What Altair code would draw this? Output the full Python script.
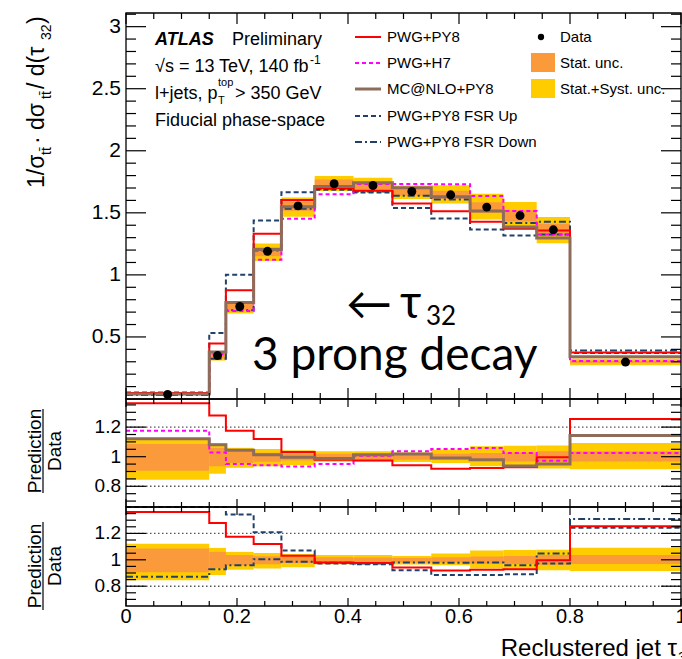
import altair as alt
import numpy as np
import pandas as pd

# ---------------------------------------------------------------- data
# bin edges of the reclustered jet tau32 distribution
edges = [0.0, 0.15, 0.18, 0.23, 0.28, 0.34, 0.41, 0.48, 0.55, 0.62, 0.68, 0.74, 0.80, 1.0]

# unfolded data, 1/sigma dsigma/dtau32
data_vals = [0.036, 0.350, 0.745, 1.190, 1.556, 1.734, 1.720, 1.672, 1.645, 1.546, 1.478, 1.363, 0.298]

# prediction / data for each generator setup
r_pwg_py8 = [1.362, 1.279, 1.175, 1.119, 1.031, 0.980, 0.975, 0.942, 0.919, 0.924, 0.928, 0.996, 1.254]
r_pwg_h7 = [1.175, 1.029, 0.951, 0.942, 0.933, 0.951, 1.007, 1.036, 1.052, 1.058, 1.025, 0.973, 1.025]
r_mcnlo = [1.121, 1.081, 1.043, 1.013, 0.996, 0.987, 1.013, 1.018, 0.991, 0.980, 0.937, 0.951, 1.144]
r_fsr_up = [1.450, 1.520, 1.344, 1.208, 1.071, 0.972, 0.967, 0.920, 0.884, 0.884, 0.891, 0.972, 1.243]
r_fsr_down = [0.871, 0.929, 0.959, 1.005, 0.985, 0.977, 0.972, 0.980, 0.977, 0.980, 0.959, 1.048, 1.309]

# relative uncertainty bands (stat. and stat.+syst.)
tot_lo = [0.845, 0.885, 0.925, 0.935, 0.944, 0.966, 0.968, 0.964, 0.958, 0.935, 0.931, 0.920, 0.915]
tot_hi = [1.121, 1.090, 1.060, 1.052, 1.043, 1.036, 1.036, 1.029, 1.047, 1.070, 1.074, 1.076, 1.092]
stat_lo = [0.905, 0.935, 0.958, 0.966, 0.975, 0.980, 0.980, 0.980, 0.980, 0.970, 0.968, 0.962, 0.968]
stat_hi = [1.085, 1.060, 1.036, 1.027, 1.022, 1.020, 1.018, 1.014, 1.020, 1.025, 1.029, 1.036, 1.036]

# axis ticks and labels
x_major = [0.0, 0.2, 0.4, 0.6, 0.8, 1.0]
x_labels = ["0", "0.2", "0.4", "0.6", "0.8", "1"]
main_major = [0.5, 1.0, 1.5, 2.0, 2.5, 3.0]
main_labels = ["0.5", "1", "1.5", "2", "2.5", "3"]
ratio_major = [0.8, 1.0, 1.2]
ratio_labels = ["0.8", "1", "1.2"]

# ---------------------------------------------------------------- styling
RED = "#ff0000"
MAGENTA = "#ff00ff"
BROWN = "#8e6c5a"
NAVY = "#22416a"
ORANGE = "#fb9a3a"
YELLOW = "#ffcc00"
FONT = "Liberation Sans"

W = 555
PANELS = {
    "main": dict(domain=[0.0, 3.11], top=0, bottom=386),
    "r1": dict(domain=[0.66, 1.39], top=386, bottom=494),
    "r2": dict(domain=[0.65, 1.40], top=494, bottom=593),
}
XS = alt.Scale(domain=[0, 1], nice=False, zero=False)
ONE = pd.DataFrame({"k": [0]})


def yscale(p):
    d = PANELS[p]
    return alt.Scale(domain=d["domain"], range=[d["bottom"], d["top"]],
                     nice=False, zero=False, clamp=True)


def X(field):
    return alt.X(field, type="quantitative", scale=XS, axis=None)


def Y(field, p):
    return alt.Y(field, type="quantitative", scale=yscale(p), axis=None)


def step_line(vals, p, color, width, dash=None):
    df = pd.DataFrame({"x": edges, "y": list(vals) + [vals[-1]]})
    mk = dict(interpolate="step-after", color=color, strokeWidth=width, clip=True)
    if dash:
        mk["strokeDash"] = dash
    return alt.Chart(df).mark_line(**mk).encode(x=X("x"), y=Y("y", p))


def band(lo, hi, p, color):
    df = pd.DataFrame({"x0": edges[:-1], "x1": edges[1:], "lo": lo, "hi": hi})
    return alt.Chart(df).mark_rect(color=color).encode(
        x=X("x0"), x2="x1:Q", y=Y("lo", p), y2="hi:Q")


def y_ticks(p, vals, length):
    df = pd.DataFrame({"v": vals})
    left = alt.Chart(df).mark_rule(color="black", strokeWidth=1.2).encode(
        y=Y("v", p), x=alt.value(0), x2=alt.value(length))
    right = alt.Chart(df).mark_rule(color="black", strokeWidth=1.2).encode(
        y=Y("v", p), x=alt.value(W), x2=alt.value(W - length))
    return [left, right]


def x_ticks(p, vals, length):
    d = PANELS[p]
    df = pd.DataFrame({"v": vals})
    top = alt.Chart(df).mark_rule(color="black", strokeWidth=1.2).encode(
        x=X("v"), y=alt.value(d["top"]), y2=alt.value(d["top"] + length))
    bot = alt.Chart(df).mark_rule(color="black", strokeWidth=1.2).encode(
        x=X("v"), y=alt.value(d["bottom"]), y2=alt.value(d["bottom"] - length))
    return [top, bot]


def frame(p):
    d = PANELS[p]
    return alt.Chart(ONE).mark_rect(fillOpacity=0, stroke="black", strokeWidth=1.3).encode(
        x=alt.value(0), x2=alt.value(W), y=alt.value(d["top"]), y2=alt.value(d["bottom"]))


def y_labels(p, vals, labels, size):
    df = pd.DataFrame({"v": vals, "t": labels})
    return alt.Chart(df).mark_text(align="right", baseline="middle", fontSize=size,
                                   font=FONT, color="black").encode(
        y=Y("v", p), x=alt.value(-5), text="t:N")


def label(text, x, y, size=15, align="left", baseline="alphabetic", font=FONT,
          angle=0, **kw):
    mk = dict(text=text, align=align, baseline=baseline, fontSize=size, font=font,
              color="black", **kw)
    if angle:
        mk["angle"] = angle
    return alt.Chart(ONE).mark_text(**mk).encode(x=alt.value(x), y=alt.value(y))


def ref_line(p, v):
    return alt.Chart(pd.DataFrame({"v": [v]})).mark_rule(
        color="#555555", strokeWidth=1.4, strokeDash=[1.5, 2.5]).encode(
        y=Y("v", p), x=alt.value(0), x2=alt.value(W))


# ---------------------------------------------------------------- derived tables
d = np.array(data_vals)
centers = [(a + b) / 2 for a, b in zip(edges[:-1], edges[1:])]

layers = []

# ----- main panel: normalised distribution
layers += [
    band(d * np.array(tot_lo), d * np.array(tot_hi), "main", YELLOW),
    band(d * np.array(stat_lo), d * np.array(stat_hi), "main", ORANGE),
    step_line(d * np.array(r_fsr_down), "main", NAVY, 2, [7, 3, 2, 3]),
    step_line(d * np.array(r_fsr_up), "main", NAVY, 2, [5, 3]),
    step_line(d * np.array(r_pwg_h7), "main", MAGENTA, 2, [4, 3]),
    step_line(d * np.array(r_pwg_py8), "main", RED, 2),
    step_line(d * np.array(r_mcnlo), "main", BROWN, 3),
    alt.Chart(pd.DataFrame({"x": centers, "y": data_vals})).mark_circle(
        color="black", size=80, opacity=1).encode(x=X("x"), y=Y("y", "main")),
]

# ----- ratio panel 1: nominal generators
layers += [
    band(tot_lo, tot_hi, "r1", YELLOW),
    band(stat_lo, stat_hi, "r1", ORANGE),
    ref_line("r1", 1.2), ref_line("r1", 0.8),
    step_line(r_pwg_h7, "r1", MAGENTA, 2, [4, 3]),
    step_line(r_pwg_py8, "r1", RED, 2),
    step_line(r_mcnlo, "r1", BROWN, 3),
]

# ----- ratio panel 2: FSR variations
layers += [
    band(tot_lo, tot_hi, "r2", YELLOW),
    band(stat_lo, stat_hi, "r2", ORANGE),
    ref_line("r2", 1.2), ref_line("r2", 0.8),
    step_line(r_fsr_down, "r2", NAVY, 2, [7, 3, 2, 3]),
    step_line(r_fsr_up, "r2", NAVY, 2, [5, 3]),
    step_line(r_pwg_py8, "r2", RED, 2),
]

# ----- ticks, frames and tick labels
x_minor = [round(v, 2) for v in np.arange(0.05, 1.0, 0.05) if round(v * 5, 6) % 1 != 0]
main_minor = [round(v, 2) for v in np.arange(0.1, 3.11, 0.1) if round(v * 2, 6) % 1 != 0]
r1_minor = [round(v, 2) for v in np.arange(0.70, 1.39, 0.05) if round(v, 2) not in ratio_major]
r2_minor = [round(v, 2) for v in np.arange(0.70, 1.39, 0.05) if round(v, 2) not in ratio_major]

layers += y_ticks("main", main_major, 20) + y_ticks("main", main_minor, 10)
layers += x_ticks("main", x_major, 11) + x_ticks("main", x_minor, 6)
layers += y_ticks("r1", ratio_major, 20) + y_ticks("r1", r1_minor, 10)
layers += x_ticks("r1", x_major, 8) + x_ticks("r1", x_minor, 5)
layers += y_ticks("r2", ratio_major, 20) + y_ticks("r2", r2_minor, 10)
layers += x_ticks("r2", x_major, 8) + x_ticks("r2", x_minor, 5)
layers += [frame("main"), frame("r1"), frame("r2")]

layers += [
    y_labels("main", main_major, main_labels, 21),
    y_labels("r1", ratio_major, ratio_labels, 19),
    y_labels("r2", ratio_major, ratio_labels, 19),
    alt.Chart(pd.DataFrame({"v": x_major, "t": x_labels})).mark_text(
        align="center", baseline="alphabetic", fontSize=20, font=FONT, color="black").encode(
        x=X("v"), y=alt.value(610), text="t:N"),
]

# ----- axis titles
layers += [
    label("Reclustered jet \u03c4", 551, 643, size=24, align="right"),
    label("32", 552, 649, size=15),
    # 1/sigma_tt dsigma_tt / d(tau32), written bottom to top
    label("1/\u03c3", -82, 175, size=23, angle=270),
    label("tt\u0304", -75, 142, size=14, angle=270),
    label(" \u00b7 d\u03c3", -82, 131, size=23, angle=270),
    label("tt\u0304", -75, 86, size=14, angle=270),
    label(" / d(\u03c4", -82, 76, size=23, angle=270),
    label("32", -75, 27, size=14, angle=270),
    label(")", -82, 11, size=23, angle=270),
]
for p, yc, y0, y1 in [("r1", 438, 396, 480), ("r2", 553, 509, 597)]:
    layers += [
        label("Prediction", -85, yc, size=19, align="center", angle=270),
        label("Data", -65, yc, size=19, align="center", angle=270),
        alt.Chart(ONE).mark_rule(color="black", strokeWidth=1.2).encode(
            x=alt.value(-83), y=alt.value(y0), y2=alt.value(y1)),
    ]

# ----- experiment labels
layers += [
    label("ATLAS", 29, 32, size=18, fontStyle="italic", fontWeight="bold"),
    label("Preliminary", 106, 32, size=18),
    label("\u221as = 13 TeV, 140 fb", 29, 59, size=18),
    label("-1", 184, 51, size=12),
    label("l+jets, p", 29, 86, size=18),
    label("top", 92, 73, size=11),
    label("T", 92, 91, size=11),
    label("> 350 GeV", 109, 86, size=18),
    label("Fiducial phase-space", 29, 113, size=18),
]

# ----- legend
legend_rows = [
    ("PWG+PY8", RED, 2, None, 24),
    ("PWG+H7", MAGENTA, 2, [4, 3], 50),
    ("MC@NLO+PY8", BROWN, 3, None, 76),
    ("PWG+PY8 FSR Up", NAVY, 2, [5, 3], 103),
    ("PWG+PY8 FSR Down", NAVY, 2, [7, 3, 2, 3], 129),
]
for name, col, w, dash, yy in legend_rows:
    mk = dict(color=col, strokeWidth=w)
    if dash:
        mk["strokeDash"] = dash
    layers += [
        alt.Chart(ONE).mark_rule(**mk).encode(
            x=alt.value(229), x2=alt.value(255), y=alt.value(yy)),
        label(name, 261, yy, size=15, baseline="middle"),
    ]
layers += [
    alt.Chart(ONE).mark_circle(color="black", size=40, opacity=1).encode(
        x=alt.value(415), y=alt.value(24)),
    label("Data", 434, 24, size=15, baseline="middle"),
    alt.Chart(ONE).mark_rect(color=ORANGE).encode(
        x=alt.value(405), x2=alt.value(429), y=alt.value(40), y2=alt.value(59)),
    label("Stat. unc.", 434, 50, size=15, baseline="middle"),
    alt.Chart(ONE).mark_rect(color=YELLOW).encode(
        x=alt.value(405), x2=alt.value(429), y=alt.value(66), y2=alt.value(85)),
    label("Stat.+Syst. unc.", 434, 76, size=15, baseline="middle"),
]

# ----- annotation
layers += [
    label("\u2190", 220, 307, size=46, font="Lato"),
    label("\u03c4", 274, 305, size=46, font="Lato"),
    label("32", 300, 312, size=26, font="Lato"),
    label("3 prong decay", 126, 357, size=46, font="Lato"),
]

chart = alt.layer(*layers).resolve_scale(y="independent").properties(
    width=W, height=593,
    autosize=alt.AutoSizeParams(type="none"),
    padding={"left": 126, "top": 13, "right": 1, "bottom": 53},
).configure_view(stroke=None)

chart.save("out.html", embed_options={"renderer": "svg", "actions": False})
